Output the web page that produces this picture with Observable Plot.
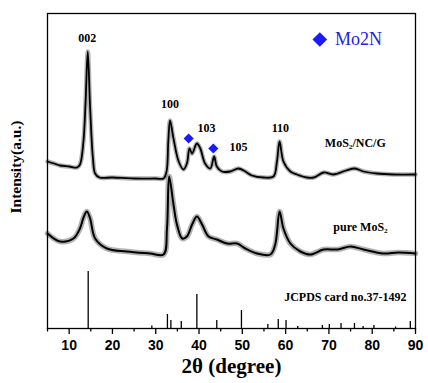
<!DOCTYPE html>
<html><head><meta charset="utf-8">
<script src="https://cdn.jsdelivr.net/npm/d3@7"></script>
<script src="https://cdn.jsdelivr.net/npm/@observablehq/plot@0.6"></script>
<style>body{margin:0;background:#fff}</style>
</head><body><div id="chart"></div>
<script>
// MoS2/NC/G pattern (2θ, intensity a.u.)
const ncTheta = [5.0, 6.5, 7.9, 10.0, 11.8, 12.5, 13.3, 13.8, 14.3, 14.85, 15.5, 16.0, 17.0, 20.0, 25.0, 30.0, 31.8, 32.5, 32.9, 33.3, 34.1, 35.3, 36.4, 37.2, 37.8, 38.4, 39.5, 40.3, 41.4, 42.6, 43.5, 44.1, 45.3, 47.2, 49.1, 50.7, 52.2, 54.9, 57.2, 58.0, 58.6, 59.5, 61.1, 62.6, 64.9, 66.5, 68.8, 71.0, 74.0, 76.0, 78.0, 81.0, 85.0, 90.0];
const ncInt   = [167, 165, 163, 162, 161, 164, 187, 227, 277, 220, 170, 155, 151, 151, 150, 150, 150, 157, 187, 208, 190, 167, 159, 165, 180, 175, 185, 180, 165, 160, 172, 162, 157, 157, 160, 157, 153, 151, 152, 167, 187, 167, 157, 154, 151, 151, 156, 154, 158, 160, 157, 155, 154, 154];
// pure MoS2 pattern
const pureTheta = [5.0, 7.9, 11.0, 12.5, 13.4, 14.1, 14.85, 16.0, 18.7, 23.3, 28.7, 31.8, 32.6, 33.1, 34.1, 34.9, 36.1, 37.2, 38.4, 39.5, 40.7, 42.2, 44.1, 46.5, 48.8, 50.7, 53.4, 56.5, 57.6, 58.6, 59.5, 61.1, 63.4, 65.7, 68.8, 72.0, 75.0, 78.0, 82.6, 86.0, 90.0];
const pureInt   = [95, 87, 90, 100, 112, 117, 110, 90, 80, 77, 75, 74, 100, 152, 124, 104, 90, 92, 104, 112, 104, 92, 89, 85, 85, 80, 75, 74, 84, 117, 100, 85, 77, 74, 79, 79, 82, 79, 75, 76, 75];
// JCPDS card no.37-1492 reference lines
const stickTheta  = [14.4, 29.1, 32.7, 33.5, 35.9, 39.5, 44.1, 49.8, 55.9, 58.3, 60.1, 62.8, 68.5, 70.1, 72.8, 75.9, 77.9, 80.4, 85.4, 88.8];
const stickHeight = [57, 2.5, 14, 8, 7, 34, 8, 18, 4, 9, 8, 2, 3, 4, 5, 5, 2, 3, 1.5, 7];
// peak index labels
const peakText  = ["002", "100", "103", "105", "110"];
const peakTheta = [14.2, 33.3, 41.7, 49.1, 58.8];
const peakY     = [290, 224, 200, 181, 200];
// sample labels
const sampleText  = ["MoS\u2082/NC/G", "pure MoS\u2082", "JCPDS card no.37-1492"];
const sampleTheta = [76.1, 77.3, 73.8];
const sampleY     = [185, 101, 31];
// Mo2N markers
const mo2nTheta = [37.6, 43.3];
const mo2nY     = [190, 180];
// legend
const legendTheta = [67.9];
const legendY = [289];
const legendText = ["Mo2N"];
const legendTextTheta = [71.4];
// axis ticks
const majorTicks = [10, 20, 30, 40, 50, 60, 70, 80, 90];
const minorTicks = [5, 15, 25, 35, 45, 55, 65, 75, 85];

const nc = ncTheta.map((t, i) => ({t, v: ncInt[i]}));
const pure = pureTheta.map((t, i) => ({t, v: pureInt[i]}));
const sticks = stickTheta.map((t, i) => ({t, h: stickHeight[i]}));
const peaks = peakText.map((s, i) => ({s, t: peakTheta[i], v: peakY[i]}));
const samples = sampleText.map((s, i) => ({s, t: sampleTheta[i], v: sampleY[i]}));
const mo2n = mo2nTheta.map((t, i) => ({t, v: mo2nY[i]}));
const legendDot = legendTheta.map((t, i) => ({t, v: legendY[i]}));
const legendLbl = legendText.map((s, i) => ({s, t: legendTextTheta[i], v: legendY[i]}));

const serif = "'Liberation Serif','Times New Roman',serif";
const sans = "'Liberation Sans',Arial,sans-serif";

const chart = Plot.plot({
  width: 428, height: 383,
  marginLeft: 47, marginRight: 13, marginTop: 13, marginBottom: 55,
  style: {background: "#fff", color: "#000", fontFamily: sans},
  x: {domain: [5, 90], axis: null},
  y: {domain: [0, 315], axis: null},
  marks: [
    Plot.line(nc, {x: "t", y: "v", stroke: "#666", strokeWidth: 4.5, strokeOpacity: 0.5, curve: "catmull-rom"}),
    Plot.line(nc, {x: "t", y: "v", stroke: "#000", strokeWidth: 1.8, curve: "catmull-rom"}),
    Plot.line(pure, {x: "t", y: "v", stroke: "#666", strokeWidth: 5.5, strokeOpacity: 0.5, curve: "catmull-rom"}),
    Plot.line(pure, {x: "t", y: "v", stroke: "#000", strokeWidth: 2, curve: "catmull-rom"}),
    Plot.ruleX(sticks, {x: "t", y1: 0, y2: "h", stroke: "#000", strokeWidth: 1.3}),
    Plot.frame({stroke: "#000", strokeWidth: 1.3}),
    Plot.axisX(majorTicks, {anchor: "bottom", tickSize: 6, tickPadding: 6, fontSize: 14, fontWeight: "bold", fontFamily: sans, label: null, strokeWidth: 1.3}),
    Plot.axisX(minorTicks, {anchor: "bottom", tickSize: 3.5, text: null, label: null, strokeWidth: 1.3}),
    Plot.text(peaks, {x: "t", y: "v", text: "s", fontSize: 12, fontWeight: "bold", fontFamily: serif, fill: "#000"}),
    Plot.text(samples, {x: "t", y: "v", text: "s", fontSize: 12, fontWeight: "bold", fontFamily: serif, fill: "#000"}),
    Plot.dot(mo2n, {x: "t", y: "v", symbol: "diamond2", r: 4.6, fill: "#1a1aff", stroke: "none"}),
    Plot.dot(legendDot, {x: "t", y: "v", symbol: "diamond2", r: 6.6, fill: "#1a1aff", stroke: "none"}),
    Plot.text(legendLbl, {x: "t", y: "v", text: "s", textAnchor: "start", fontSize: 18, fontFamily: serif, fill: "#2222dd"}),
    Plot.text(["2θ (degree)"], {frameAnchor: "bottom", dy: 44, fontSize: 21, fontWeight: "bold", fontFamily: serif, fill: "#000"}),
    Plot.text(["Intensity(a.u.)"], {frameAnchor: "left", textAnchor: "middle", rotate: -90, dx: -31, dy: -4, fontSize: 15.5, fontWeight: "bold", fontFamily: serif, fill: "#000"})
  ]
});
document.getElementById("chart").appendChild(chart);
</script>
</body></html>
